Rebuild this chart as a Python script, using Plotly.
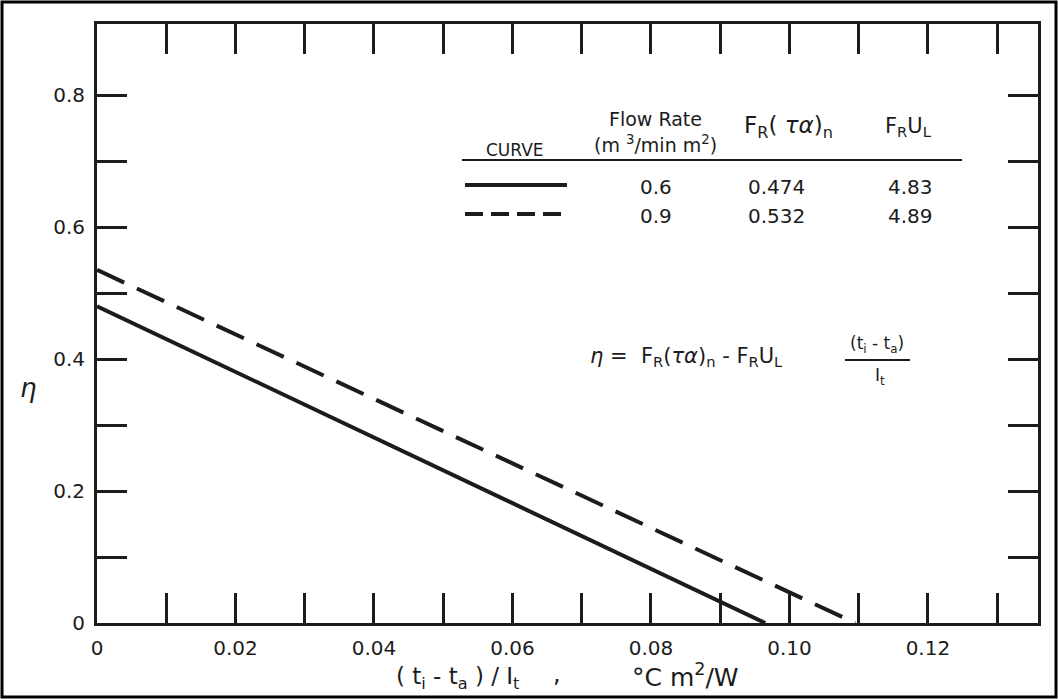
import plotly.graph_objects as go

# Data
x_solid = [0.0, 0.0965]
y_solid = [0.48, 0.0]
x_dashed = [0.0, 0.1095]
y_dashed = [0.535, 0.0]

x_tickvals = [0, 0.01, 0.02, 0.03, 0.04, 0.05, 0.06, 0.07, 0.08, 0.09, 0.10, 0.11, 0.12, 0.13]
x_ticktext = ["0", "", "0.02", "", "0.04", "", "0.06", "", "0.08", "", "0.10", "", "0.12", ""]
y_tickvals = [0, 0.1, 0.2, 0.3, 0.4, 0.5, 0.6, 0.7, 0.8]
y_ticktext = ["0", "", "0.2", "", "0.4", "", "0.6", "", "0.8"]

table_flow = ["0.6", "0.9"]
table_fr_ta = ["0.474", "0.532"]
table_fr_ul = ["4.83", "4.89"]

INK = "#1c1c1c"
FONT = "DejaVu Sans"

W, H = 1058, 699
ML, MR, MT, MB = 97, 20, 24, 76
PW, PH = W - ML - MR, H - MT - MB

def px(xp):
    return (xp - ML) / PW

def py(yp):
    return 1 - (yp - MT) / PH

fig = go.Figure()
fig.add_trace(go.Scatter(x=x_solid, y=y_solid, mode="lines",
                         line=dict(color=INK, width=4), showlegend=False))
fig.add_trace(go.Scatter(x=x_dashed, y=y_dashed, mode="lines",
                         line=dict(color=INK, width=4, dash="30px,14px"), showlegend=False))

axis_common = dict(showgrid=False, zeroline=False, showline=True, linecolor=INK,
                   linewidth=3, ticks="inside", ticklen=30, tickwidth=3,
                   tickcolor=INK, mirror="ticks", ticklabelstandoff=5,
                   tickfont=dict(family=FONT, size=20, color=INK))

fig.update_layout(
    width=W, height=H,
    margin=dict(l=ML, r=MR, t=MT, b=MB),
    paper_bgcolor="white", plot_bgcolor="white",
    xaxis=dict(range=[0, 0.1359], tickvals=x_tickvals, ticktext=x_ticktext, **axis_common),
    yaxis=dict(range=[0, 0.9076], tickvals=y_tickvals, ticktext=y_ticktext, **axis_common),
    font=dict(family=FONT, color=INK),
)

ann = []
def A(xp, yp, text, size=18, xanchor="center"):
    ann.append(dict(x=px(xp), y=py(yp), xref="paper", yref="paper", text=text,
                    showarrow=False, xanchor=xanchor, yanchor="middle",
                    font=dict(family=FONT, size=size, color=INK)))

# axis titles
A(28, 388, "<i>η</i>", size=26)
A(457, 678, "( t<sub>i</sub> - t<sub>a</sub> ) / I<sub>t</sub>", size=23)
A(557, 674, ",", size=24)
A(685, 675, "°C m<sup>2</sup>/W", size=25)

# table header
A(515, 150, "CURVE", size=17)
A(655, 119, "Flow Rate", size=19)
A(655, 144, "(m <sup>3</sup>/min m<sup>2</sup>)", size=19)
A(788, 127, "F<sub>R</sub>( <i>τα</i>)<sub>n</sub>", size=23)
A(908, 127, "F<sub>R</sub>U<sub>L</sub>", size=21)
# table rows
for i, yp in enumerate([187, 216]):
    A(656, yp, table_flow[i], size=20)
    A(776, yp, table_fr_ta[i], size=20)
    A(910, yp, table_fr_ul[i], size=20)

# equation
A(588, 357, "<i>η</i> =  F<sub>R</sub>(<i>τα</i>)<sub>n</sub> - F<sub>R</sub>U<sub>L</sub>", size=21, xanchor="left")
A(877, 344, "(t<sub>i</sub> - t<sub>a</sub>)", size=17)
A(880, 376, "I<sub>t</sub>", size=17)

fig.update_layout(annotations=ann)

shapes = []
# header underline
shapes.append(dict(type="line", xref="paper", yref="paper", x0=px(462), x1=px(962),
                   y0=py(160), y1=py(160), line=dict(color=INK, width=2)))
# legend samples
shapes.append(dict(type="line", xref="paper", yref="paper", x0=px(465), x1=px(567),
                   y0=py(185), y1=py(185), line=dict(color=INK, width=4)))
shapes.append(dict(type="line", xref="paper", yref="paper", x0=px(465), x1=px(567),
                   y0=py(214), y1=py(214), line=dict(color=INK, width=4, dash="18px,8px")))
# fraction bar
shapes.append(dict(type="line", xref="paper", yref="paper", x0=px(845), x1=px(910),
                   y0=py(360), y1=py(360), line=dict(color=INK, width=2)))
# outer frame
shapes.append(dict(type="rect", xref="paper", yref="paper", x0=px(2), x1=px(1056),
                   y0=py(2), y1=py(697), line=dict(color="black", width=3)))
fig.update_layout(shapes=shapes)

fig.write_html("out.html")
